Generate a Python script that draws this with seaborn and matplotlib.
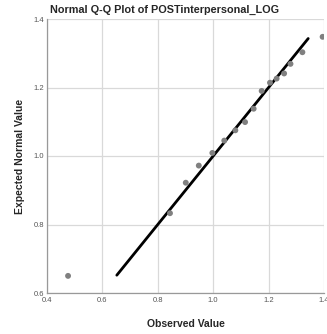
import numpy as np
import pandas as pd
import matplotlib
matplotlib.use("Agg")
import matplotlib.pyplot as plt
import seaborn as sns

# observed vs expected normal values
observed = [0.476, 0.844, 0.901, 0.948, 0.997, 1.040, 1.080, 1.115, 1.146,
            1.175, 1.205, 1.229, 1.256, 1.279, 1.322, 1.395]
expected = [0.650, 0.833, 0.922, 0.972, 1.009, 1.045, 1.075, 1.099, 1.138,
            1.190, 1.214, 1.226, 1.241, 1.269, 1.303, 1.348]
ref_line_x = [0.652, 1.343]
ref_line_y = [0.652, 1.343]
xticks = [0.4, 0.6, 0.8, 1.0, 1.2, 1.4]
yticks = [0.6, 0.8, 1.0, 1.2, 1.4]

sns.set_theme(style="white")
plt.rcParams["font.family"] = ["Liberation Sans", "DejaVu Sans"]

df = pd.DataFrame({"Observed Value": observed, "Expected Normal Value": expected})
line_df = pd.DataFrame({"x": ref_line_x, "y": ref_line_y})

fig = plt.figure(figsize=(3.27, 3.34), dpi=100)
ax = fig.add_axes([47 / 327, 41 / 334, 277 / 327, 274 / 334])

ax.grid(True, color="#d9d9d9", linewidth=0.9)
ax.set_axisbelow(True)

sns.lineplot(data=line_df, x="x", y="y", color="black", linewidth=2.0, ax=ax)
sns.scatterplot(data=df, x="Observed Value", y="Expected Normal Value",
                color="#808080", s=18, edgecolor="none", ax=ax, zorder=3)

ax.set_xticks(xticks)
ax.set_yticks(yticks)
ax.set_xlim(0.4, 1.4)
ax.set_ylim(0.6, 1.4)

for side in ["top", "right"]:
    ax.spines[side].set_visible(False)
for side in ["left", "bottom"]:
    ax.spines[side].set_color("#999999")
    ax.spines[side].set_linewidth(0.9)

ax.tick_params(axis="both", labelsize=5.5, labelcolor="#555555", length=0)
ax.tick_params(axis="x", pad=3)
ax.tick_params(axis="y", pad=2)
ax.set_xticklabels(["0.4", "0.6", "0.8", "1.0", "1.2", "1.4"])
ax.set_yticklabels(["0.6", "0.8", "1.0", "1.2", "1.4"])

ax.set_xlabel("Observed Value", fontsize=7.5, fontweight="bold", labelpad=11)
ax.set_ylabel("Expected Normal Value", fontsize=7.5, fontweight="bold", labelpad=6)
fig.text(165 / 327, 1 - 10 / 334, "Normal Q-Q Plot of POSTinterpersonal_LOG",
         fontsize=7.8, fontweight="bold", ha="center", va="center")

fig.savefig("out.png", dpi=100)
